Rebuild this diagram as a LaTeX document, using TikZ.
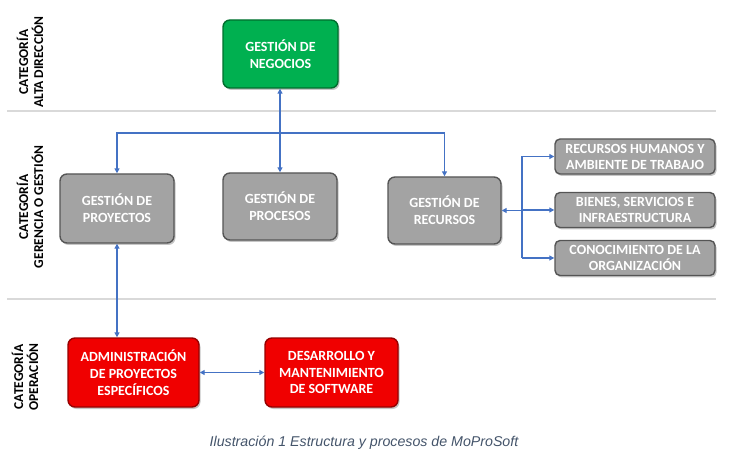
\documentclass[tikz,border=0pt]{standalone}
\usepackage{fontspec}
\setmainfont{Carlito}
\newfontfamily\capfont{Liberation Sans}
\usetikzlibrary{shadows,arrows.meta}
\definecolor{arrblue}{RGB}{68,114,196}
\definecolor{sepgray}{RGB}{217,217,217}
\definecolor{capcol}{RGB}{68,84,106}
\definecolor{gfill}{RGB}{0,176,80}
\definecolor{gdraw}{RGB}{0,110,45}
\definecolor{grfill}{RGB}{163,163,163}
\definecolor{grdraw}{RGB}{85,85,85}
\definecolor{rfill}{RGB}{240,0,0}
\definecolor{rdraw}{RGB}{150,0,0}
\begin{document}
\begin{tikzpicture}[x=1pt,y=-1pt,
  box/.style={rounded corners=7pt, line width=1.4pt, text=white, align=center, inner sep=0pt,
    font=\bfseries\fontsize{14}{17}\selectfont,
    drop shadow={shadow xshift=1.5pt, shadow yshift=-2pt, opacity=0.45}},
  greenbox/.style={box, fill=gfill, draw=gdraw},
  graybox/.style={box, fill=grfill, draw=grdraw},
  redbox/.style={box, fill=rfill, draw=rdraw, font=\bfseries\fontsize{14}{16.7}\selectfont},
  smallbox/.style={graybox, rounded corners=5pt, font=\bfseries\fontsize{14}{16}\selectfont},
  arr/.style={draw=arrblue, line width=1.6pt},
  tip/.tip={Triangle[length=5pt,width=5pt]},
  sepline/.style={draw=sepgray, line width=2.2pt},
  catlabel/.style={rotate=90, align=center, font=\bfseries\fontsize{13.5}{15}\selectfont}]
\useasboundingbox (0,0) rectangle (742,465);

% separators
\draw[sepline] (7,111) -- (716,111);
\draw[sepline] (7,299) -- (716,299);

% category labels
\node[catlabel] (cat1) at (30,62) {CATEGORÍA\\ALTA DIRECCIÓN};
\node[catlabel] (cat2) at (30,207) {CATEGORÍA\\GERENCIA O GESTIÓN};
\node[catlabel] (cat3) at (25,377) {CATEGORÍA\\OPERACIÓN};

% boxes
\node[greenbox, minimum width=115pt, minimum height=68pt] (neg) at (280.5,54) {GESTIÓN DE\\NEGOCIOS};
\node[graybox, minimum width=114pt, minimum height=69pt] (proy) at (117,208.5) {GESTIÓN DE\\PROYECTOS};
\node[graybox, minimum width=114pt, minimum height=67pt] (proc) at (280,206.5) {GESTIÓN DE\\PROCESOS};
\node[graybox, minimum width=113pt, minimum height=67pt] (rec) at (444.5,210.5) {GESTIÓN DE\\RECURSOS};
\node[smallbox, minimum width=160pt, minimum height=35pt] (s1) at (635,156.5) {RECURSOS HUMANOS Y\\AMBIENTE DE TRABAJO};
\node[smallbox, minimum width=160pt, minimum height=35pt] (s2) at (635,210) {BIENES, SERVICIOS E\\INFRAESTRUCTURA};
\node[smallbox, minimum width=160pt, minimum height=35pt] (s3) at (635,258) {CONOCIMIENTO DE LA\\ORGANIZACIÓN};
\node[redbox, minimum width=131pt, minimum height=69pt] (adm) at (133.5,372.5) {ADMINISTRACIÓN\\DE PROYECTOS\\ESPECÍFICOS};
\node[redbox, minimum width=133pt, minimum height=69pt] (des) at (331.5,372.5) {DESARROLLO Y\\MANTENIMIENTO\\DE SOFTWARE};

% connectors
\coordinate (bus) at (280,133);
\draw[arr,{tip}-{tip}] (neg.south -| proc.north) -- (proc.north);
\draw[arr,-{tip}] (bus) -| (proy.north);
\draw[arr,-{tip}] (bus) -| (rec.north);
\draw[arr,{tip}-{tip}] (proy.south) -- (proy.south |- adm.north);
\draw[arr,{tip}-{tip}] (adm.east) -- (des.west);
\coordinate (rb) at (522,210.5);
\draw[arr,{tip}-] (rec.east) -- (rb);
\draw[arr] (rb |- s1.west) -- (rb |- s3.west);
\draw[arr,-{tip}] (rb |- s1.west) -- (s1.west);
\draw[arr,-{tip}] (rb |- s2.west) -- (s2.west);
\draw[arr,-{tip}] (rb |- s3.west) -- (s3.west);

% caption
\node[font=\capfont\itshape\fontsize{14.2}{16}\selectfont, text=capcol] (cap) at (364,443) {Ilustración 1 Estructura y procesos de MoProSoft};
\end{tikzpicture}
\end{document}
